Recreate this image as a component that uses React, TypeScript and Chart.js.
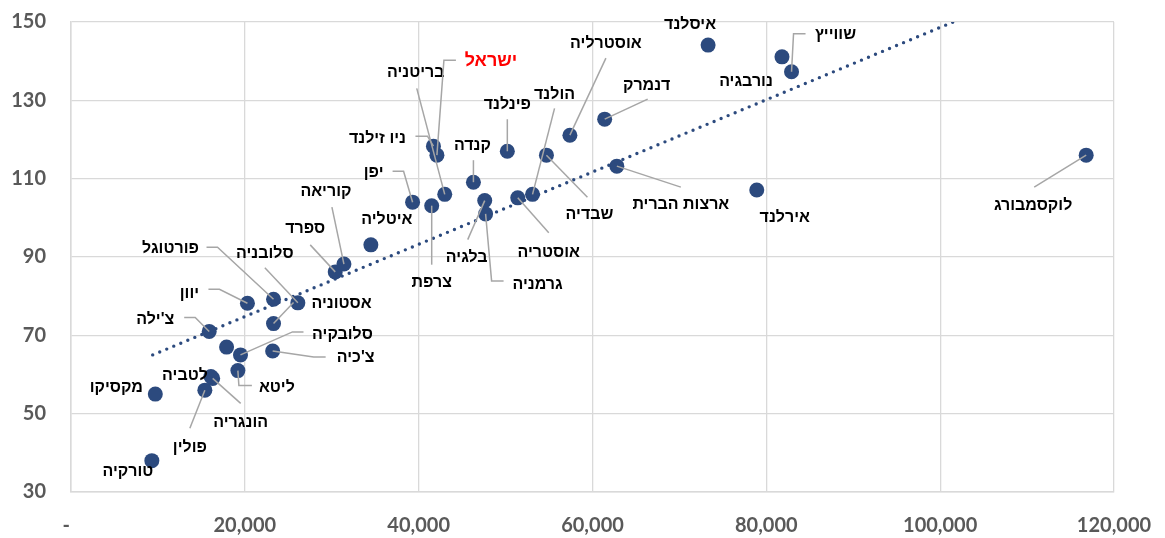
import React, { useEffect, useRef } from "react";
import { Chart, registerables } from "chart.js";

Chart.register(...registerables);

// ---- Data ----
const countries = [
  "טורקיה", "מקסיקו", "פולין", "הונגריה", "לטביה", "ליטא", "סלובקיה", "צ'כיה", "",
  "צ'ילה", "יוון", "פורטוגל", "סלובניה", "אסטוניה", "ספרד", "קוריאה", "איטליה",
  "יפן", "צרפת", "בריטניה", "ניו זילנד", "ישראל", "קנדה", "פינלנד", "בלגיה",
  "גרמניה", "אוסטריה", "הולנד", "שבדיה", "אוסטרליה", "דנמרק", "ארצות הברית",
  "איסלנד", "אירלנד", "נורבגיה", "שווייץ", "לוקסמבורג",
];
const gdpPerCapita = [
  9300, 9700, 15400, 16300, 16100, 19200, 19500, 23200, 17900,
  15900, 20300, 23300, 26100, 23300, 30400, 31400, 34500,
  39300, 41500, 43000, 41700, 42100, 46300, 50200, 47600,
  47700, 51400, 53100, 54700, 57400, 61400, 62800,
  73300, 78900, 81800, 82900, 116800,
];
const indexValues = [
  38, 55, 56, 59, 59.5, 61, 65, 66, 67,
  71, 78.2, 79.2, 78.3, 73, 86.2, 88.2, 93.1,
  104, 103.1, 106, 118.3, 116, 109.1, 117, 104.4,
  101, 105.1, 106, 116, 121.1, 125.2, 113.2,
  144.1, 107.1, 141.1, 137.3, 116,
];
const trendX = [9400, 101500];
const trendY = [65, 150];
const xTickValues = [0, 20000, 40000, 60000, 80000, 100000, 120000];
const yTickValues = [30, 50, 70, 90, 110, 130, 150];

// ---- Label layout (pixel offsets from each point) ----
type Lay = { dx: number; dy: number; leader?: number[][]; color?: string; size?: number };
const labelLayout: Record<string, Lay> = {
  "טורקיה": { dx: -24, dy: 11 },
  "מקסיקו": { dx: -39, dy: -6 },
  "פולין": { dx: -15, dy: 57, leader: [[-15, 38], [0, 0]] },
  "הונגריה": { dx: 28, dy: 44, leader: [[28, 25], [0, 0]] },
  "לטביה": { dx: -26, dy: -1 },
  "ליטא": { dx: 39, dy: 17, leader: [[14, 15], [1, 15], [0, 0]] },
  "סלובקיה": { dx: 102, dy: -20, leader: [[63, -23], [52, -23], [0, 0]] },
  "צ'כיה": { dx: 83, dy: 7, leader: [[53, 6], [41, 6], [0, 0]] },
  "צ'ילה": { dx: -54, dy: -12, leader: [[-25, -14], [-14, -14], [0, 0]] },
  "יוון": { dx: -58, dy: -10, leader: [[-39, -14], [-28, -14], [0, 0]] },
  "פורטוגל": { dx: -103, dy: -51, leader: [[-67, -52], [-56, -52], [0, 0]] },
  "סלובניה": { dx: -33, dy: -49, leader: [[-33, -35], [0, 0]] },
  "אסטוניה": { dx: 68, dy: -20, leader: [[20, -21], [0, 0]] },
  "ספרד": { dx: -30, dy: -43, leader: [[-25, -27], [0, 0]] },
  "קוריאה": { dx: -18, dy: -72, leader: [[-12, -57], [0, 0]] },
  "איטליה": { dx: 16, dy: -25 },
  "יפן": { dx: -39, dy: -30, leader: [[-20, -31], [-9, -31], [0, 0]] },
  "צרפת": { dx: 0, dy: 77, leader: [[0, 59], [0, 0]] },
  "בריטניה": { dx: -29, dy: -122, leader: [[-28, -106], [0, 0]] },
  "ניו זילנד": { dx: -56, dy: -8, leader: [[-18, -10], [-6, -10], [0, 0]] },
  "ישראל": { dx: 54, dy: -94, leader: [[19, -95], [7, -95], [0, 0]], color: "#FF0000", size: 18 },
  "קנדה": { dx: -1, dy: -37, leader: [[0, -22], [0, 0]] },
  "פינלנד": { dx: 0, dy: -47, leader: [[0, -32], [0, 0]] },
  "בלגיה": { dx: -18, dy: 57, leader: [[-17, 39], [0, 0]] },
  "גרמניה": { dx: 52, dy: 71, leader: [[18, 67], [6, 67], [0, 0]] },
  "אוסטריה": { dx: 31, dy: 55, leader: [[31, 35], [0, 0]] },
  "הולנד": { dx: 22, dy: -100, leader: [[22, -86], [0, 0]] },
  "שבדיה": { dx: 43, dy: 59, leader: [[41, 42], [0, 0]] },
  "אוסטרליה": { dx: 36, dy: -92, leader: [[36, -77], [0, 0]] },
  "דנמרק": { dx: 42, dy: -34, leader: [[43, -20], [0, 0]] },
  "ארצות הברית": { dx: 64, dy: 38, leader: [[64, 21], [0, 0]] },
  "איסלנד": { dx: -18, dy: -21 },
  "אירלנד": { dx: 28, dy: 28 },
  "נורבגיה": { dx: -36, dy: 25 },
  "שווייץ": { dx: 44, dy: -37, leader: [[14, -38], [2, -38], [0, 0]] },
  "לוקסמבורג": { dx: -53, dy: 50, leader: [[-52, 32], [0, 0]] },
};

const NAVY = "#2C4A7E";
const TICK_FONT = { family: "Lato, 'Liberation Sans', sans-serif", size: 20, weight: "bold" as const };

const labelPlugin = {
  id: "pointLabels",
  afterDatasetsDraw(chart: any) {
    const ctx = chart.ctx;
    const xs = chart.scales.x;
    const ys = chart.scales.y;
    ctx.save();
    countries.forEach((name, i) => {
      const lay = labelLayout[name];
      if (!lay) return;
      const px = xs.getPixelForValue(gdpPerCapita[i]);
      const py = ys.getPixelForValue(indexValues[i]);
      if (lay.leader) {
        ctx.beginPath();
        lay.leader.forEach(([lx, ly], k) => {
          if (k === 0) ctx.moveTo(px + lx, py + ly);
          else ctx.lineTo(px + lx, py + ly);
        });
        ctx.strokeStyle = "#A6A6A6";
        ctx.lineWidth = 1.5;
        ctx.stroke();
      }
      ctx.font = `bold ${lay.size || 16}px "Liberation Sans", "DejaVu Sans", sans-serif`;
      ctx.fillStyle = lay.color || "#000000";
      ctx.textAlign = "center";
      ctx.textBaseline = "middle";
      ctx.direction = "rtl";
      ctx.fillText(name, px + lay.dx, py + lay.dy);
    });
    ctx.restore();
  },
};

const zeroPad = (s: any) => {
  s.paddingLeft = 0;
  s.paddingRight = 0;
  s.paddingTop = 0;
  s.paddingBottom = 0;
};

export default function App() {
  const canvasRef = useRef<HTMLCanvasElement | null>(null);

  useEffect(() => {
    if (!canvasRef.current) return;
    const points = gdpPerCapita.map((x, i) => ({ x, y: indexValues[i] }));
    const trend = trendX.map((x, i) => ({ x, y: trendY[i] }));
    const chart = new Chart(canvasRef.current, {
      type: "scatter",
      data: {
        datasets: [
          {
            type: "line",
            data: trend,
            borderColor: NAVY,
            borderWidth: 3.4,
            borderDash: [0, 7.6],
            borderCapStyle: "round",
            pointRadius: 0,
            fill: false,
            tension: 0,
            clip: 0,
          } as any,
          {
            data: points,
            pointRadius: 7.5,
            pointHoverRadius: 7.5,
            pointBackgroundColor: NAVY,
            pointBorderWidth: 0,
            backgroundColor: NAVY,
            borderColor: NAVY,
          },
        ],
      },
      options: {
        responsive: false,
        animation: false,
        events: [],
        layout: { padding: { top: 22, right: 51, left: 0, bottom: 0 } },
        plugins: { legend: { display: false }, tooltip: { enabled: false } },
        scales: {
          x: {
            type: "linear",
            min: 0,
            max: 120000,
            afterBuildTicks: (s: any) => {
              s.ticks = xTickValues.map((v) => ({ value: v }));
            },
            afterFit: (s: any) => {
              s.height = 46;
              zeroPad(s);
            },
            ticks: {
              font: TICK_FONT,
              color: "#595959",
              padding: 22,
              maxRotation: 0,
              callback: (v: any) => (Number(v) === 0 ? "-  " : Number(v).toLocaleString("en-US")),
            },
            grid: { color: "#D9D9D9", lineWidth: 1.3, drawTicks: false },
            border: { color: "#D9D9D9", width: 1.5 },
          },
          y: {
            type: "linear",
            min: 30,
            max: 150,
            afterBuildTicks: (s: any) => {
              s.ticks = yTickValues.map((v) => ({ value: v }));
            },
            afterFit: (s: any) => {
              s.width = 71;
              zeroPad(s);
            },
            ticks: {
              font: TICK_FONT,
              color: "#595959",
              padding: 25,
            },
            grid: { color: "#D9D9D9", lineWidth: 1.3, drawTicks: false },
            border: { color: "#D9D9D9", width: 1.5 },
          },
        },
      },
      plugins: [labelPlugin],
    });
    return () => chart.destroy();
  }, []);

  return (
    <div style={{ position: "fixed", left: 0, top: 0, width: 1165, height: 538, background: "#fff" }}>
      <canvas ref={canvasRef} width={1165} height={538} />
    </div>
  );
}
